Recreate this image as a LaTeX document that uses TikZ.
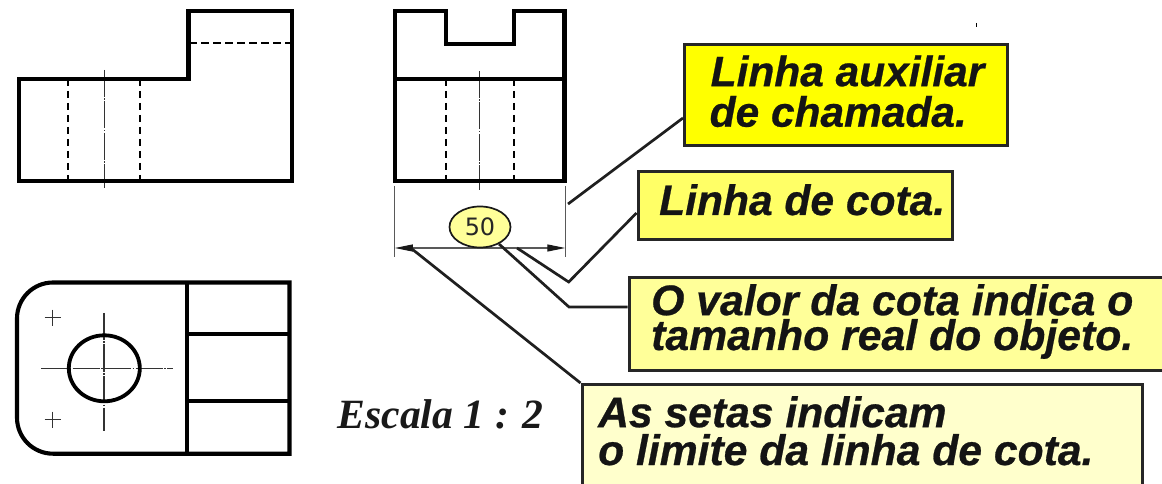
\documentclass[tikz,border=0pt]{standalone}
\usepackage{fontspec}
\setmainfont{Liberation Sans}
\newfontfamily\labface{Liberation Sans}[BoldItalicFeatures={FakeBold=0.6}]
\newfontfamily\serifface{Liberation Serif}
\newfontfamily\dejaface{DejaVu Sans}
\usetikzlibrary{arrows.meta,shapes.geometric}
\definecolor{boxa}{HTML}{FFFF00}
\definecolor{boxb}{HTML}{FFFF66}
\definecolor{boxc}{HTML}{FFFF99}
\definecolor{boxd}{HTML}{FFFFCC}
\tikzset{
  thickline/.style={line width=4.1bp,black,line join=miter},
  hidden/.style={line width=2bp,black,dash pattern=on 7.5bp off 4.5bp},
  axis/.style={line width=1.1bp,black!80,dash pattern=on 27bp off 1.5bp on 1.5bp off 1.5bp},
  thinline/.style={line width=1.1bp,black!65},
  leader/.style={line width=2.7bp,black!88,line join=miter},
  callout/.style={draw=black!85,line width=3bp,rectangle,inner sep=0pt,anchor=north west},
  lab/.style={anchor=base west,inner sep=0pt,align=left,black!92},
}
\begin{document}
\begin{tikzpicture}[x=1bp,y=-1bp]
\useasboundingbox (0,0) rectangle (1162,484);
% front view
\draw[hidden] (189,43.5) -- (292,43.5);
\draw[hidden] (67.7,79) -- (67.7,181);
\draw[hidden] (139.7,79) -- (139.7,181);
\draw[axis] (104.3,70) -- (104.3,188);
\draw[thickline] (18.8,78.7) -- (188.5,78.7) -- (188.5,10.7) -- (292.3,10.7) -- (292.3,181) -- (18.8,181) -- cycle;
% top view
\draw[axis] (41,368.5) -- (173,368.5);
\draw[axis] (104,313) -- (104,431);
\draw[thinline,black!80] (44.5,317.7) -- (60.5,317.7) (52.5,309.7) -- (52.5,325.7);
\draw[thinline,black!80] (44.5,419.7) -- (60.5,419.7) (52.5,411.7) -- (52.5,427.7);
\draw[thickline] (53,282.5) -- (289.5,282.5) -- (289.5,453.7) -- (53,453.7) arc[start angle=90,end angle=180,radius=36] -- (17,318.5) arc[start angle=180,end angle=270,radius=36] -- cycle;
\draw[thickline] (187,282.5) -- (187,453.7);
\draw[thickline] (187,333.7) -- (289.5,333.7);
\draw[thickline] (187,401.3) -- (289.5,401.3);
\draw[line width=3.8bp,black] (104.3,368.3) ellipse[x radius=35.5,y radius=33];
% side view
\draw[hidden] (445.7,79) -- (445.7,181);
\draw[hidden] (514,79) -- (514,181);
\draw[axis] (479.3,71) -- (479.3,190);
\draw[thickline] (394.8,10.7) -- (445.7,10.7) -- (445.7,43.7) -- (514,43.7) -- (514,10.7) -- (564.5,10.7) -- (564.5,181) -- (394.8,181) -- cycle;
\draw[thickline] (394.8,78.7) -- (564.5,78.7);
% dimension
\coordinate (extLa) at (394.8,186);
\coordinate (extLb) at (394.8,257);
\coordinate (extRa) at (565.3,186);
\coordinate (extRb) at (565.3,257);
\coordinate (dimL) at (394.8,248);
\coordinate (dimR) at (565.3,248);
\draw[thinline] (extLa) -- (extLb);
\draw[thinline] (extRa) -- (extRb);
\draw[thinline,{Triangle[length=18bp,width=7bp,black!90]}-{Triangle[length=18bp,width=7bp,black!90]}] (dimL) -- (dimR);
\node[ellipse,draw=black!90,line width=1.7bp,fill=boxc,minimum width=61bp,minimum height=41bp,inner sep=0pt,font=\dejaface\fontsize{24}{24}\selectfont,text=black!85] (val) at (480,227) {50};
% boxes
\node[callout,fill=boxa,minimum width=322.5bp,minimum height=101.5bp] (bA) at (683,43) {};
\node[callout,fill=boxb,minimum width=314.5bp,minimum height=68.5bp] (bB) at (636.5,170) {};
\node[callout,fill=boxc,minimum width=540bp,minimum height=93bp] (bC) at (627.5,276) {};
\node[callout,fill=boxd,minimum width=560.5bp,minimum height=110bp] (bD) at (580.5,383) {};
% leaders
\coordinate (lAs) at (568,204);
\coordinate (lBs) at (517,248);
\coordinate (lBm) at (568.7,282);
\coordinate (lCs) at (499,244);
\coordinate (lCm) at (569,307);
\coordinate (lDs) at (412,249);
\coordinate (lAe) at (bA.west |- 0,118);
\coordinate (lBe) at (bB.west |- 0,213);
\coordinate (lCe) at (bC.west |- lCm);
\draw[leader] (lAs) -- (lAe);
\draw[leader] (lBs) -- (lBm) -- (lBe);
\draw[leader] (lCs) -- (lCm) -- (lCe);
\draw[leader] (lDs) -- (bD.north west);
% texts
\node[lab,font=\labface\bfseries\itshape\fontsize{42.6}{40.7}\selectfont] (tA) at (709.5,126.7) {\hspace{1bp}Linha auxiliar\\de chamada.};
\node[lab,font=\labface\bfseries\itshape\fontsize{42.7}{42}\selectfont] (tB) at (659,215) {Linha de cota.};
\node[lab,font=\labface\bfseries\itshape\fontsize{42.9}{35}\selectfont] (tC) at (651,350) {O valor da cota indica o\\tamanho real do objeto.};
\node[lab,font=\labface\bfseries\itshape\fontsize{42.8}{38}\selectfont] (tD) at (598,465) {As setas indicam\\o limite da linha de cota.};
\node[lab,font=\serifface\bfseries\itshape\fontsize{41.8}{42}\selectfont,text=black!90] (esc) at (337.5,428) {Escala 1 : 2};
% stray tick
\draw[line width=0.8bp,black] (976,23) -- (976,27);
\end{tikzpicture}
\end{document}
